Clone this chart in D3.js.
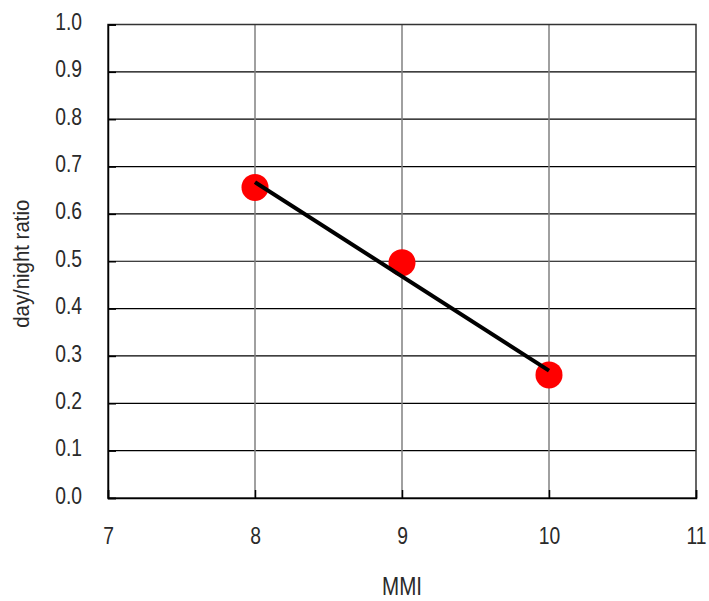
<!DOCTYPE html>
<html>
<head>
<meta charset="utf-8">
<script src="https://cdn.jsdelivr.net/npm/d3@7"></script>
<style>
    body { margin: 0; background: #fff; }
    text { font-family: "Liberation Sans", Arial, sans-serif; fill: #2a2a2a; }
</style>
</head>
<body>
<script>
// measured points
var mmi = [8, 9, 10];
var ratio = [0.656, 0.497, 0.26];
// fitted line end points
var fitX = [8, 10];
var fitY = [0.667, 0.269];

var xTicks = [7, 8, 9, 10, 11];
var yTicks = [0, 0.1, 0.2, 0.3, 0.4, 0.5, 0.6, 0.7, 0.8, 0.9, 1.0];

var margin = {top: 24.5, right: 13, bottom: 103, left: 108},
    width = 709 - margin.left - margin.right,
    height = 601 - margin.top - margin.bottom;

var svg = d3.select("body").append("svg")
    .attr("width", 709)
    .attr("height", 601)
    .append("g")
    .attr("transform", "translate(" + margin.left + "," + margin.top + ")");

var xScale = d3.scaleLinear().domain([7, 11]).range([0, width]);
var yScale = d3.scaleLinear().domain([0, 1]).range([height, 0]);

// horizontal grid
svg.append("g")
    .selectAll("line")
    .data(yTicks.slice(1, -1))
    .enter().append("line")
    .attr("x1", 0).attr("x2", width)
    .attr("y1", function (d) { return yScale(d); })
    .attr("y2", function (d) { return yScale(d); })
    .attr("stroke", "#000")
    .attr("stroke-width", 1.2);

// vertical grid
svg.append("g")
    .selectAll("line")
    .data(xTicks.slice(1, -1))
    .enter().append("line")
    .attr("y1", 0).attr("y2", height)
    .attr("x1", function (d) { return xScale(d); })
    .attr("x2", function (d) { return xScale(d); })
    .attr("stroke", "#808080")
    .attr("stroke-width", 1.5);

// frame
svg.append("rect")
    .attr("width", width).attr("height", height)
    .attr("fill", "none")
    .attr("stroke", "#333")
    .attr("stroke-width", 1.5);

// axes with inner ticks
var xAxis = svg.append("g")
    .attr("transform", "translate(0," + height + ")")
    .call(d3.axisBottom(xScale).tickValues(xTicks).tickSize(-8).tickFormat(d3.format("d")));
var yAxis = svg.append("g")
    .call(d3.axisLeft(yScale).tickValues(yTicks).tickSize(-8).tickFormat(d3.format(".1f")));

[xAxis, yAxis].forEach(function (a) {
    a.attr("font-family", null).attr("font-size", null);
    a.select(".domain").attr("stroke", "#000").attr("stroke-width", 1.5);
    a.selectAll(".tick line").attr("stroke", "#000").attr("stroke-width", 1.5);
    a.selectAll(".tick text").style("font-size", "23px");
});
// condensed look: squeeze labels horizontally around their anchor
yAxis.selectAll(".tick text")
    .attr("x", 0).attr("dy", "0.22em")
    .attr("transform", "translate(-26,0) scale(0.84,1)");
xAxis.selectAll(".tick text")
    .attr("y", 0).attr("dy", "0.71em")
    .attr("transform", "translate(0,30) scale(0.84,1)");

// points
svg.selectAll(".dot")
    .data(mmi)
    .enter().append("circle")
    .attr("class", "dot")
    .attr("cx", function (d) { return xScale(d); })
    .attr("cy", function (d, i) { return yScale(ratio[i]); })
    .attr("r", 13.5)
    .attr("fill", "#ff0000");

// fit line
var line = d3.line()
    .x(function (d) { return xScale(d); })
    .y(function (d, i) { return yScale(fitY[i]); });
svg.append("path")
    .datum(fitX)
    .attr("d", line)
    .attr("fill", "none")
    .attr("stroke", "#000")
    .attr("stroke-width", 4);

// axis titles
svg.append("text")
    .attr("x", width / 2)
    .attr("y", height + 96.5)
    .attr("text-anchor", "middle")
    .attr("textLength", 40)
    .attr("lengthAdjust", "spacingAndGlyphs")
    .style("font-size", "25px")
    .text("MMI");
svg.append("text")
    .attr("transform", "translate(-79," + (height / 2 + 2.5) + ") rotate(-90)")
    .attr("text-anchor", "middle")
    .attr("textLength", 128)
    .attr("lengthAdjust", "spacingAndGlyphs")
    .style("font-size", "21.5px")
    .text("day/night ratio");
</script>
</body>
</html>
